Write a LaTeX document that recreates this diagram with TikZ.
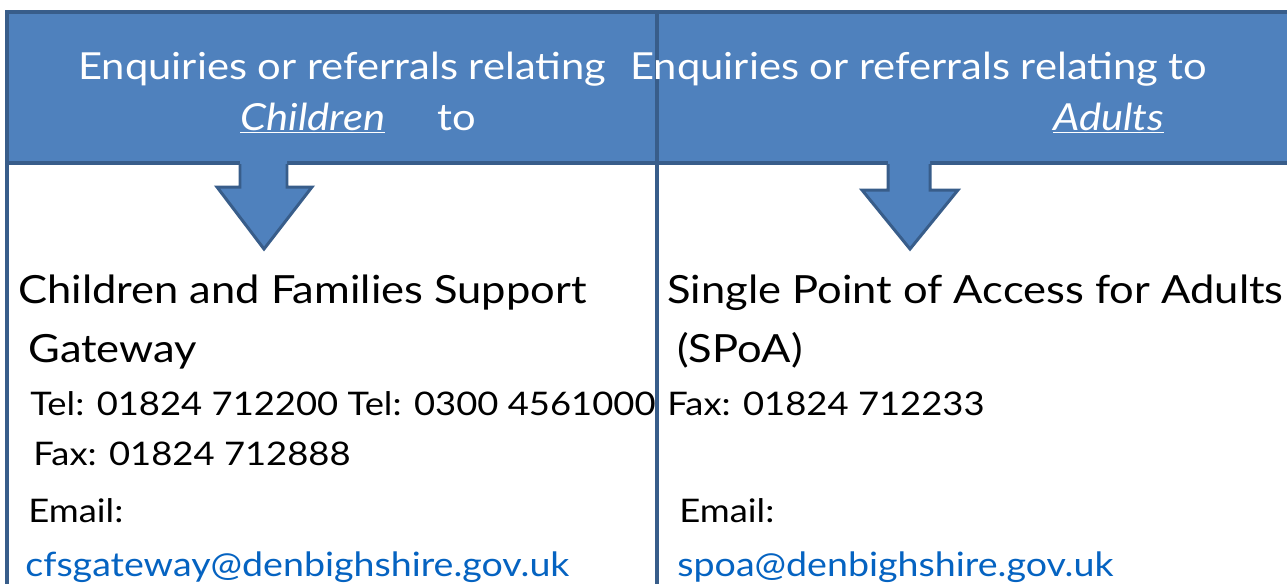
\documentclass[tikz,border=0pt]{standalone}
\usepackage{fontspec}
\setmainfont{Lato}
\newfontfamily\widefont[FakeStretch=1.12]{Lato}
\definecolor{hdrfill}{HTML}{4F81BD}
\definecolor{hdrline}{HTML}{385D8A}
\definecolor{maillink}{HTML}{0563C1}

\begin{document}
\begin{tikzpicture}[x=0.02cm, y=-0.02cm,
    hdrbox/.style ={draw=hdrline, fill=hdrfill, line width=2.2pt},
    divline/.style ={draw=hdrline, line width=1.9pt},
    hdrtext/.style ={anchor=base west, inner sep=0, text=white, font=\widefont\fontsize{21.2}{26}\selectfont},
    bodytext/.style ={anchor=base west, inner sep=0, font=\widefont\fontsize{22.1}{26}\selectfont},
    infotext/.style ={anchor=base west, inner sep=0, font=\widefont\fontsize{18.5}{22}\selectfont},
    mailtext/.style ={anchor=base west, inner sep=0, text=maillink, font=\widefont\fontsize{19.1}{23}\selectfont}]
   \clip (0,0) rectangle (1287,583);

   % header band
   \draw[hdrbox] (7,12) rectangle (1310,163);

   % arrows under the header
   \fill[hdrfill] (240,160) -- (240,187) -- (217,187) -- (264,249) -- (312,187) -- (287,187) -- (287,160) -- cycle;
   \draw[hdrline, line width=1.7pt, line join=miter] (240,164) -- (240,187) -- (217,187) -- (264,249) -- (312,187) -- (287,187) -- (287,164);
   \fill[hdrfill] (888,160) -- (888,190) -- (862,190) -- (910,249) -- (958,190) -- (930,190) -- (930,160) -- cycle;
   \draw[hdrline, line width=1.7pt, line join=miter] (888,164) -- (888,190) -- (862,190) -- (910,249) -- (958,190) -- (930,190) -- (930,164);

   % columns
   \draw[divline] (7,12) -- (7,590);
   \draw[divline] (657,12) -- (657,590);

   % header texts
   \node[hdrtext] (childA) at (78,79) {Enquiries or referrals relating};
   \node[hdrtext] (childB) at (240,130) {\underline{\textit{Children}}\hspace{1.4em}to};
   \node[hdrtext] (adultA) at (630,79) {Enquiries or referrals relating to};
   \node[hdrtext] (adultB) at (1053,130) {\underline{\textit{Adults}}};

   % left column
   \node[bodytext] (cfsName) at (18,303) {Children and Families Support};
   \node[bodytext] (cfsName2) at (28,362) {Gateway};
   \node[infotext] (cfsTel) at (30,415) {Tel: 01824 712200 Tel: 0300 4561000};
   \node[infotext] (cfsFax) at (33,465) {Fax: 01824 712888};
   \node[infotext] (cfsMail) at (28,522) {Email:};
   \node[mailtext] (cfsAddr) at (25,576) {cfsgateway@denbighshire.gov.uk};

   % right column
   \node[bodytext] (spoaName) at (667,303) {Single Point of Access for Adults};
   \node[bodytext] (spoaName2) at (677,362) {(SPoA)};
   \node[infotext] (spoaFax) at (667,415) {Fax: 01824 712233};
   \node[infotext] (spoaMail) at (679,522) {Email:};
   \node[mailtext] (spoaAddr) at (677,576) {spoa@denbighshire.gov.uk};
\end{tikzpicture}
\end{document}
